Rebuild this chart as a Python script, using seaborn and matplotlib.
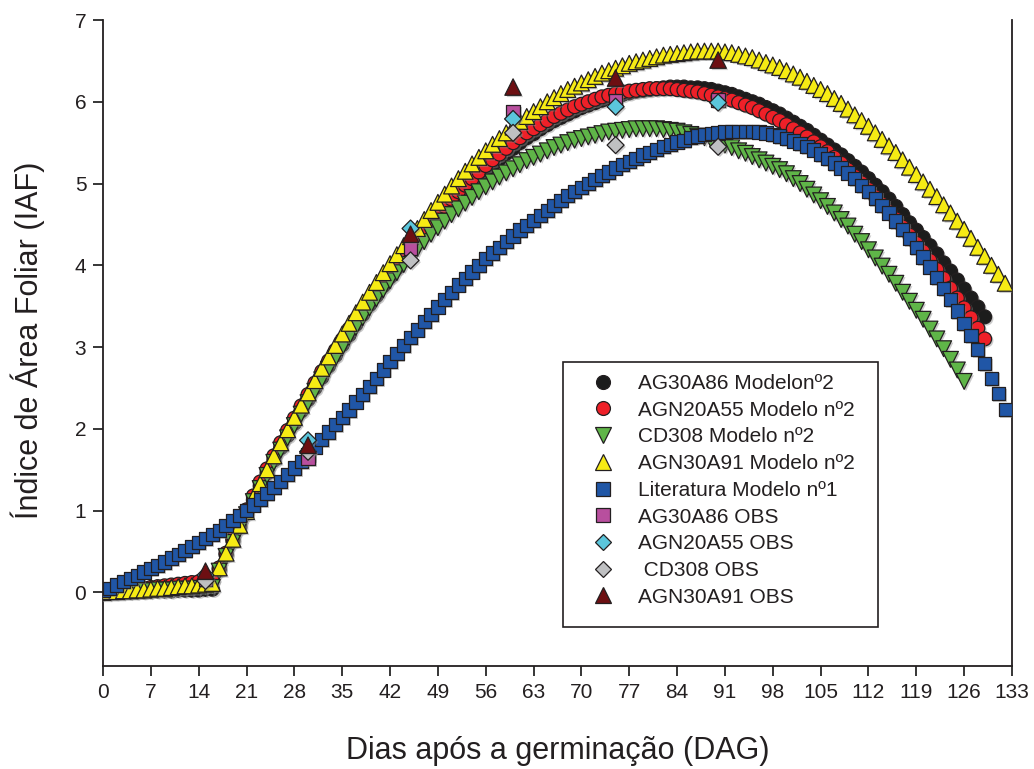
import numpy as np
import pandas as pd
import matplotlib
matplotlib.use("Agg")
import matplotlib.pyplot as plt
import matplotlib.patheffects as pe
import seaborn as sns
from matplotlib.lines import Line2D
from matplotlib.patches import Rectangle

# ---------------- data ----------------
ag30a86_start = 0
ag30a86_model = [0.00,0.00,0.00,0.01,0.01,0.01,0.01,0.02,0.02,0.02,0.02,0.03,0.03,0.03,0.03,0.04,0.04,
    0.28,0.46,0.63,0.80,0.97,1.13,1.30,1.46,1.62,1.77,1.92,2.07,2.22,2.36,2.50,2.63,2.77,2.90,3.03,3.15,
    3.28,3.40,3.52,3.63,3.75,3.86,3.97,4.07,4.18,4.28,4.38,4.47,4.57,4.66,4.75,4.83,4.92,5.00,5.08,5.15,
    5.23,5.30,5.37,5.43,5.50,5.56,5.61,5.67,5.72,5.77,5.81,5.85,5.89,5.93,5.96,5.99,6.02,6.05,6.07,6.09,
    6.11,6.13,6.14,6.15,6.16,6.17,6.18,
    6.18,6.18,6.17,6.17,6.16,6.15,6.13,6.11,6.09,6.06,6.03,6.00,5.97,5.93,5.89,5.85,5.80,5.75,5.70,5.65,
    5.59,5.53,5.47,5.41,5.35,5.28,5.21,5.14,5.06,4.98,4.90,4.81,4.72,4.62,4.52,4.43,4.34,4.24,4.14,4.03,
    3.93,3.82,3.71,3.60,3.49,3.37]

agn20a55_start = 0
agn20a55_model = [0.00,0.01,0.02,0.03,0.03,0.04,0.05,0.06,0.07,0.08,0.09,0.10,0.11,0.12,0.13,0.14,0.15,
    0.30,0.48,0.66,0.84,1.01,1.18,1.35,1.51,1.67,1.83,1.98,2.13,2.28,2.42,2.56,2.70,2.83,2.96,3.09,3.22,
    3.34,3.46,3.58,3.70,3.81,3.92,4.03,4.14,4.24,4.34,4.44,4.54,4.63,4.72,4.81,4.90,4.98,5.06,5.14,5.22,
    5.29,5.36,5.43,5.50,5.56,5.62,5.67,5.72,5.77,5.82,5.86,5.90,5.94,5.97,6.00,6.03,6.06,6.08,6.10,6.12,
    6.13,6.14,6.15,6.16,6.16,
    6.16,6.16,6.15,6.14,6.13,6.12,6.10,6.08,6.06,6.04,6.02,5.99,5.96,5.93,5.89,5.85,5.81,5.77,5.72,5.67,
    5.62,5.57,5.51,5.45,5.39,5.32,5.25,5.17,5.09,5.01,4.93,4.84,4.75,4.66,4.57,4.47,4.37,4.27,4.17,4.06,
    3.95,3.84,3.72,3.60,3.48,3.36,3.23,3.10]

cd308_start = 0
cd308_model = [0.00,0.00,0.01,0.01,0.01,0.02,0.02,0.02,0.03,0.03,0.03,0.04,0.04,0.04,0.05,0.05,0.06,
    0.26,0.44,0.61,0.78,0.95,1.11,1.27,1.43,1.59,1.74,1.89,2.04,2.18,2.32,2.46,2.60,2.73,2.86,2.99,3.12,
    3.24,3.36,3.48,3.59,3.70,3.81,3.91,4.01,4.11,4.20,4.29,4.38,4.46,4.54,4.62,4.69,4.76,4.83,4.90,4.96,
    5.02,5.08,5.13,5.18,5.23,5.28,5.32,5.36,5.40,5.44,5.47,5.50,5.53,5.55,5.57,5.59,5.61,5.63,5.64,5.65,
    5.66,5.67,5.67,
    5.67,5.67,5.66,5.65,5.64,5.62,5.60,5.58,5.56,5.53,5.50,5.47,5.44,5.40,5.37,5.33,5.29,5.25,5.21,5.17,
    5.12,5.06,5.00,4.93,4.86,4.79,4.72,4.64,4.56,4.48,4.38,4.29,4.19,4.09,3.99,3.89,3.78,3.67,3.56,3.45,
    3.34,3.22,3.10,2.98,2.85,2.72,2.58]

agn30a91_start = 0
agn30a91_model = [0.00,0.01,0.01,0.02,0.02,0.03,0.03,0.04,0.05,0.05,0.06,0.07,0.08,0.08,0.09,0.10,0.11,
    0.30,0.48,0.65,0.82,0.99,1.16,1.33,1.50,1.67,1.83,1.99,2.14,2.29,2.44,2.59,2.74,2.88,3.02,3.16,3.29,
    3.42,3.55,3.67,3.79,3.91,4.02,4.13,4.24,4.35,4.45,4.56,
    4.67,4.77,4.87,4.97,5.06,5.15,5.24,5.32,5.40,5.48,5.55,5.62,5.69,5.76,5.82,5.88,5.94,6.00,6.05,6.10,
    6.15,6.19,6.23,6.27,6.31,6.35,6.38,6.41,6.44,6.47,6.49,6.51,6.53,6.55,6.57,6.58,6.59,6.60,6.61,6.62,
    6.62,6.62,6.62,
    6.61,6.60,6.58,6.56,6.54,6.51,6.48,6.45,6.42,6.38,6.34,6.30,6.25,6.20,6.15,6.10,6.04,5.98,5.91,5.84,
    5.77,5.70,5.62,5.54,5.46,5.38,5.29,5.20,5.11,5.02,4.93,4.84,4.74,4.64,4.54,4.44,4.33,4.22,4.11,4.00,
    3.89,3.78]

literatura_start = 0
literatura_model = [0.02,0.05,0.09,0.13,0.17,0.21,0.25,0.29,0.33,0.37,
    0.42,0.46,0.51,0.56,0.61,0.66,0.71,0.76,0.82,0.88,
    0.94,1.00,1.07,1.14,1.21,1.28,1.36,1.44,1.52,1.60,
    1.69,1.78,1.87,1.96,2.05,2.14,2.23,2.33,2.42,2.52,
    2.62,2.72,2.82,2.92,3.02,3.12,3.21,3.31,3.40,3.49,
    3.58,3.67,3.76,3.84,3.92,4.00,4.08,4.15,4.22,4.29,
    4.36,4.43,4.49,4.55,4.61,4.67,4.73,4.79,4.85,4.90,
    4.95,5.00,5.05,5.10,5.14,5.19,5.23,5.27,5.31,5.35,
    5.38,5.42,5.45,5.48,5.51,5.53,5.56,5.58,5.60,5.61,
    5.62,5.63,5.64,5.64,5.64,5.64,5.63,5.62,5.60,5.58,
    5.55,5.52,5.49,5.45,5.41,5.36,5.31,5.25,5.19,5.13,
    5.06,4.98,4.90,4.82,4.73,4.64,4.54,4.44,4.33,4.22,
    4.10,3.98,3.85,3.72,3.58,3.44,3.29,3.14,2.97,2.80,
    2.62,2.43,2.24]

obs_days = [15, 30, 45, 60, 75, 90]
ag30a86_obs = [0.16, 1.64, 4.21, 5.88, 6.01, 6.02]
agn20a55_obs = [0.21, 1.86, 4.45, 5.79, 5.94, 5.99]
cd308_obs = [0.14, 1.72, 4.06, 5.62, 5.47, 5.45]
agn30a91_obs = [0.26, 1.80, 4.38, 6.18, 6.29, 6.51]

x_ticks = list(range(0, 134, 7))
y_ticks = [0, 1, 2, 3, 4, 5, 6, 7]

labels = ["AG30A86 Modelon\u00ba2", "AGN20A55 Modelo n\u00ba2", "CD308 Modelo n\u00ba2",
          "AGN30A91 Modelo n\u00ba2", "Literatura Modelo n\u00ba1", "AG30A86 OBS",
          "AGN20A55 OBS", " CD308 OBS", "AGN30A91 OBS"]

# ---------------- style ----------------
sns.set_theme(style="ticks")
plt.rcParams['font.family'] = ['Liberation Sans', 'DejaVu Sans']
EDGE = "#231f20"
TXT = "#231f20"
shadow = [pe.SimplePatchShadow(offset=(1.3, -1.3), shadow_rgbFace="0.55", alpha=0.45), pe.Normal()]

fig = plt.figure(figsize=(10.34, 7.69), dpi=100)
W, H = 1034, 769
ax = fig.add_axes([103 / W, 1 - 666 / H, (1012 - 103) / W, (666 - 20) / H])

series = [
    (ag30a86_start, ag30a86_model, "o", 100, "#1c1c1c"),
    (agn20a55_start, agn20a55_model, "o", 100, "#ee2028"),
    (cd308_start, cd308_model, "v", 130, "#5fb548"),
    (agn30a91_start, agn30a91_model, "^", 130, "#f6eb14"),
    (literatura_start, literatura_model, "s", 92, "#2056a6"),
]
z = 3
for start, vals, mk, size, col in series:
    df = pd.DataFrame({"dia": np.arange(start, start + len(vals)), "iaf": vals})
    sns.scatterplot(data=df, x="dia", y="iaf", marker=mk, s=size, color=col,
                    edgecolor=EDGE, linewidth=0.9, ax=ax, zorder=z, legend=False)
    ax.collections[-1].set_path_effects(shadow)
    z += 1

obs_series = [
    (ag30a86_obs, "s", 92, "#b84f9e"),
    (agn20a55_obs, "D", 75, "#5bc6dc"),
    (cd308_obs, "D", 75, "#bfc0c2"),
    (agn30a91_obs, "^", 140, "#6d0f12"),
]
for vals, mk, size, col in obs_series:
    df = pd.DataFrame({"dia": obs_days, "iaf": vals})
    sns.scatterplot(data=df, x="dia", y="iaf", marker=mk, s=size, color=col,
                    edgecolor=EDGE, linewidth=0.9, ax=ax, zorder=z, legend=False)
    ax.collections[-1].set_path_effects(shadow)
    z += 1

ax.set_xlim(0, 133)
ax.set_ylim(-0.9, 7)
ax.set_xticks(x_ticks)
ax.set_yticks(y_ticks)
ax.tick_params(axis="both", direction="out", length=7, width=1.1, color="black",
               labelsize=15, labelcolor=TXT, pad=5)
for side in ["left", "bottom", "right"]:
    ax.spines[side].set_color(TXT)
    ax.spines[side].set_linewidth(1.3)
ax.spines["top"].set_visible(False)

ax.set_xlabel("Dias ap\u00f3s a germina\u00e7\u00e3o (DAG)", fontsize=22, color=TXT)
ax.set_ylabel("\u00cdndice de \u00c1rea Foliar (IAF)", fontsize=22, color=TXT)
ax.xaxis.set_label_coords(0.5, -(751 - 666) / 646)
ax.xaxis.label.set_va("center")
ax.yaxis.set_label_coords((28 - 103) / 909, (666 - 340) / 646)
ax.yaxis.label.set_va("center")

# legend
markers = ["o", "o", "v", "^", "s", "s", "D", "D", "^"]
colors = ["#1c1c1c", "#ee2028", "#5fb548", "#f6eb14", "#2056a6", "#b84f9e", "#5bc6dc", "#bfc0c2", "#6d0f12"]
msizes = [10, 10, 11, 11, 9.6, 9.6, 8.6, 8.6, 11.5]
handles = [Line2D([], [], linestyle="none", marker=m, markersize=s, markerfacecolor=c,
                  markeredgecolor=EDGE, markeredgewidth=0.9)
           for m, c, s in zip(markers, colors, msizes)]
leg = fig.legend(handles, labels, loc="upper left", bbox_to_anchor=(594 / W, 1 - 374 / H),
                 frameon=False, fontsize=15, borderpad=0, borderaxespad=0,
                 handlelength=0.87, handletextpad=1.25, labelspacing=0.37)
for t in leg.get_texts():
    t.set_color(TXT)
fig.add_artist(Rectangle((563 / W, 1 - 627 / H), (878 - 563) / W, (627 - 362) / H,
                         transform=fig.transFigure, fill=True, facecolor="white",
                         edgecolor=TXT, linewidth=1.2, zorder=2))

fig.savefig("out.png", dpi=100)
